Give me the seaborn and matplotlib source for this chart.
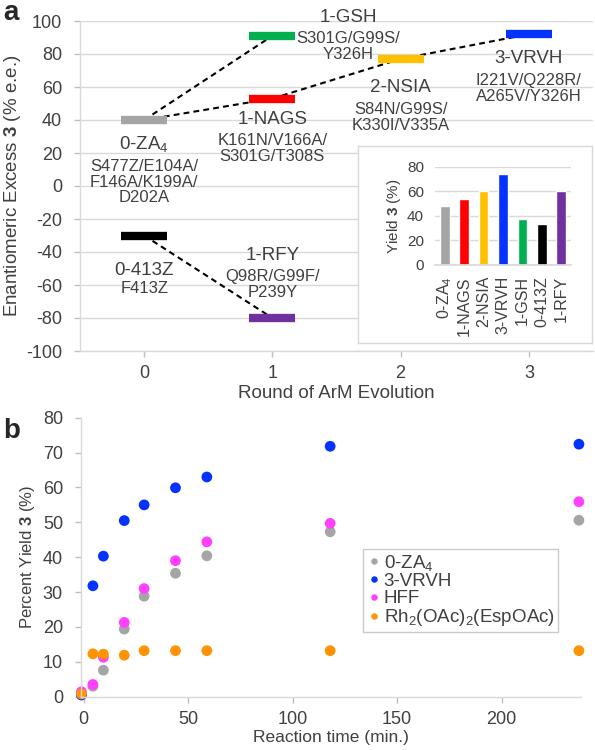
"""
Two-panel figure: ArM evolution (enantiomeric excess by round, with yield inset)
and percent yield over reaction time.
"""

import matplotlib
matplotlib.use("Agg")
import matplotlib.pyplot as plt
import pandas as pd
import seaborn as sns

# ---- panel a data ----
variants = ["0-ZA$_4$", "1-NAGS", "2-NSIA", "3-VRVH", "1-GSH", "0-413Z", "1-RFY"]
rounds = [0, 1, 2, 3, 1, 0, 1]
ee = [40, 53, 77, 92, 91, -30, -80]
yields = [48.4, 53.6, 60, 74.5, 37.3, 33.5, 60]
variant_colors = ["#A5A5A5", "#FF0000", "#FFC000", "#0433FF", "#00B050", "#000000", "#7030A0"]
mutations = [
    "S477Z/E104A/\nF146A/K199A/\nD202A",
    "K161N/V166A/\nS301G/T308S",
    "S84N/G99S/\nK330I/V335A",
    "I221V/Q228R/\nA265V/Y326H",
    "S301G/G99S/\nY326H",
    "F413Z",
    "Q98R/G99F/\nP239Y",
]
# parent -> child (indices into variants)
lineage = [(0, 4), (0, 1), (1, 2), (2, 3), (5, 6)]

# ---- panel b data ----
times = [-1, 4.5, 9.5, 19.5, 29, 44, 59, 118, 237]
yield_za4 = [0.5, 3.0, 7.6, 19.4, 28.8, 35.4, 40.4, 47.3, 50.6]
yield_vrvh = [0.5, 31.8, 40.3, 50.5, 55.0, 59.9, 63.0, 71.8, 72.4]
yield_hff = [1.4, 3.5, 11.3, 21.3, 31.0, 39.0, 44.4, 49.7, 55.9]
yield_rh = [0.8, 12.3, 12.2, 11.9, 13.2, 13.2, 13.2, 13.2, 13.2]
catalysts = ["0-ZA$_4$", "3-VRVH", "HFF", "Rh$_2$(OAc)$_2$(EspOAc)"]
catalyst_colors = ["#A5A5A5", "#0433FF", "#FF40FF", "#FF9300"]

# label layout for panel a (data coords)
name_pos = [(0, 25.5), (1, 40.6), (2, 60), (3, 77), (1.59, 102.4), (0, -51), (1, -42)]
mut_pos = [(0, 2.4), (1, 22.7), (2, 41.5), (3, 59), (1.59, 84.5), (0, -62.4), (1, -59.7)]

TXT = "#404040"
GRID = "#D9D9D9"

sns.set_theme(style="white")
plt.rcParams["font.family"] = ["Liberation Sans", "DejaVu Sans"]
plt.rcParams["mathtext.fontset"] = "custom"
plt.rcParams["mathtext.rm"] = "Liberation Sans"
plt.rcParams["mathtext.it"] = "Liberation Sans:italic"
plt.rcParams["mathtext.bf"] = "Liberation Sans:bold"
plt.rcParams["axes.unicode_minus"] = False

W, H = 595, 750
fig = plt.figure(figsize=(W / 100, H / 100), dpi=100)


def frac(left, top, right, bottom):
    return [left / W, 1 - bottom / H, (right - left) / W, (bottom - top) / H]


def style_axes(ax, size):
    for side in ("top", "right"):
        ax.spines[side].set_visible(False)
    for side in ("left", "bottom"):
        ax.spines[side].set_color(GRID)
        ax.spines[side].set_linewidth(1)
    ax.tick_params(direction="out", length=4, width=1, color="#BFBFBF",
                   labelsize=size, labelcolor=TXT, left=True, bottom=True)
    ax.tick_params(axis="y", pad=9)
    ax.tick_params(axis="x", pad=6)


# ---------------- panel a ----------------
ax_a = fig.add_axes(frac(80, 21, 593, 351))
for p, c in lineage:
    ax_a.plot([rounds[p], rounds[c]], [ee[p], ee[c]], color="black",
              lw=1.5, dashes=(2.8, 2), zorder=2)
ax_a.hlines(ee, [r - 0.18 for r in rounds], [r + 0.18 for r in rounds],
            colors=variant_colors, lw=6, zorder=3)
for i, name in enumerate(variants):
    ax_a.text(*name_pos[i], name, ha="center", va="center", fontsize=13.5, color=TXT)
    ax_a.text(*mut_pos[i], mutations[i], ha="center", va="center", fontsize=12,
              color=TXT, linespacing=1.08)
ax_a.set_xlim(-0.5, 3.5)
ax_a.set_ylim(-100, 100)
ax_a.set_xticks(range(4))
ax_a.set_yticks(range(-100, 101, 20))
ax_a.grid(axis="y", color=GRID, lw=1)
ax_a.set_axisbelow(True)
style_axes(ax_a, 13)
ax_a.set_xlabel("Round of ArM Evolution", fontsize=13.5, color=TXT, labelpad=2)
ax_a.set_ylabel("Enantiomeric Excess $\\mathbf{3}$ (% e.e.)", fontsize=13.5,
                color=TXT, labelpad=2)

# inset frame + inset bar chart
box = fig.add_axes(frac(358, 146, 592, 343), zorder=5)
box.set_facecolor("white")
box.set_xticks([])
box.set_yticks([])
for s in box.spines.values():
    s.set_color(GRID)
    s.set_linewidth(1)

ax_in = fig.add_axes(frac(435, 167, 571, 265), zorder=6)
ax_in.patch.set_alpha(0)
yield_df = pd.DataFrame({"variant": variants, "yield": yields})
sns.barplot(data=yield_df, x="variant", y="yield", hue="variant",
            palette=variant_colors, legend=False, width=0.5, saturation=1,
            ax=ax_in)
ax_in.set_ylim(0, 80)
ax_in.set_yticks(range(0, 81, 20))
ax_in.grid(axis="y", color=GRID, lw=1)
ax_in.set_axisbelow(True)
for side in ("top", "right", "left"):
    ax_in.spines[side].set_visible(False)
ax_in.spines["bottom"].set_color(GRID)
ax_in.tick_params(axis="y", length=0, labelsize=11, labelcolor=TXT, pad=8)
ax_in.tick_params(axis="x", length=0, labelsize=11.5, labelcolor=TXT, pad=8,
                  rotation=90)
ax_in.set_xlabel("")
ax_in.set_ylabel("Yield $\\mathbf{3}$ (%)", fontsize=11, color=TXT, labelpad=3)

# ---------------- panel b ----------------
ax_b = fig.add_axes(frac(81, 417.7, 581, 696.7))
series = [yield_za4, yield_vrvh, yield_hff, yield_rh]
time_df = pd.DataFrame({
    "time": times * len(catalysts),
    "yield": [v for s in series for v in s],
    "catalyst": [c for c in catalysts for _ in times],
})
sns.scatterplot(data=time_df, x="time", y="yield", hue="catalyst",
                hue_order=catalysts, palette=catalyst_colors, s=60,
                edgecolor="none", linewidth=0, ax=ax_b, clip_on=False)
ax_b.set_xlim(-1.2, 238)
ax_b.set_ylim(0, 80)
ax_b.set_xticks(range(0, 201, 50))
ax_b.set_yticks(range(0, 81, 10))
style_axes(ax_b, 13)
ax_b.set_xlabel("Reaction time (min.)", fontsize=12.5, color=TXT, labelpad=2)
ax_b.set_ylabel("Percent Yield $\\mathbf{3}$ (%)", fontsize=12, color=TXT, labelpad=4)

handles, labels = ax_b.get_legend_handles_labels()
leg = ax_b.legend(handles, labels, loc="upper left", bbox_to_anchor=(0.564, 0.529),
                  borderaxespad=0, fontsize=13.5, frameon=True, fancybox=False,
                  edgecolor="#BFBFBF", borderpad=0.2, labelspacing=0.0,
                  handletextpad=0.1, handlelength=0.8, markerscale=0.6)
leg.get_frame().set_linewidth(1)
for t in leg.get_texts():
    t.set_color(TXT)

fig.text(3 / W, 1 - 20 / H, "a", fontsize=20, fontweight="bold", color="#262626",
         va="baseline")
fig.text(3 / W, 1 - 438 / H, "b", fontsize=20, fontweight="bold", color="#262626",
         va="baseline")

fig.savefig("out.png", dpi=100)
